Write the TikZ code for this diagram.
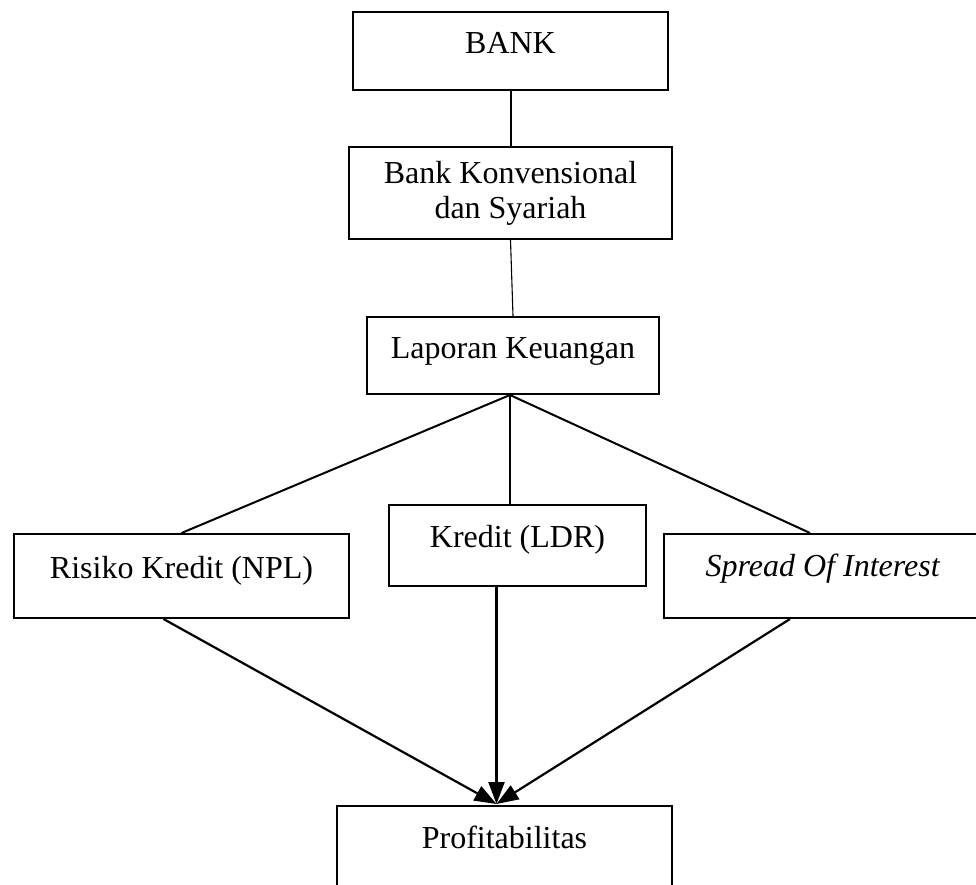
\documentclass[tikz,border=0pt]{standalone}
\usepackage{fontspec}
\setmainfont{Liberation Serif}
\usetikzlibrary{calc,arrows.meta}

\begin{document}
\begin{tikzpicture}[x=1pt,y=-1pt,
	box/.style={draw, line width=2pt, inner sep=0pt, anchor=north, text height=42pt, text depth=38pt, font=\fontsize{32}{35}\selectfont},
	link/.style={line width=2pt},
	flow/.style={line width=2.2pt, -{Triangle[length=22pt,width=16pt]}}]
	\useasboundingbox (0,0) rectangle (976,885);

	\node[box, minimum width=315pt, text depth=36pt] (bank) at (510.5,11) {BANK};
	\node[box, minimum width=323pt, minimum height=92pt, text height=, text depth=, align=center, anchor=center] (bks) at (510.5,193) {Bank Konvensional\\dan Syariah};
	\node[box, minimum width=292pt, text height=41pt, text depth=36pt] (laporan) at (513,316) {Laporan Keuangan};

	\node[box, minimum width=335pt, text height=44pt, text depth=40pt] (risiko) at (181.5,533) {Risiko Kredit (NPL)};
	\node[box, minimum width=257pt, text depth=39pt] (kredit) at (517.5,504) {Kredit (LDR)};
	\node[box, minimum width=318pt, text depth=42pt] (spread) at (823,533) {\textit{Spread Of Interest}};

	\node[box, minimum width=335pt, text depth=60pt] (profit) at (504.5,805) {Profitabilitas};

	\coordinate (fork) at ($(laporan.south)+(-3,0)$);
	\coordinate (target) at ($(profit.north)+(-8,-1)$);

	\draw[link] (bank) -- (bks);
	\draw[line width=1.1pt] (bks.south) -- (laporan.north);
	\draw[link] (fork) -- (risiko.north);
	\draw[link] (fork) -- (fork |- kredit.north);
	\draw[link] (fork) -- ($(spread.north)+(-13,0)$);

	\draw[flow] ($(risiko.south)+(-18,0)$) -- (target);
	\draw[flow] (target |- kredit.south) -- (target);
	\draw[flow] ($(spread.south)+(-33,0)$) -- (target);
\end{tikzpicture}
\end{document}
